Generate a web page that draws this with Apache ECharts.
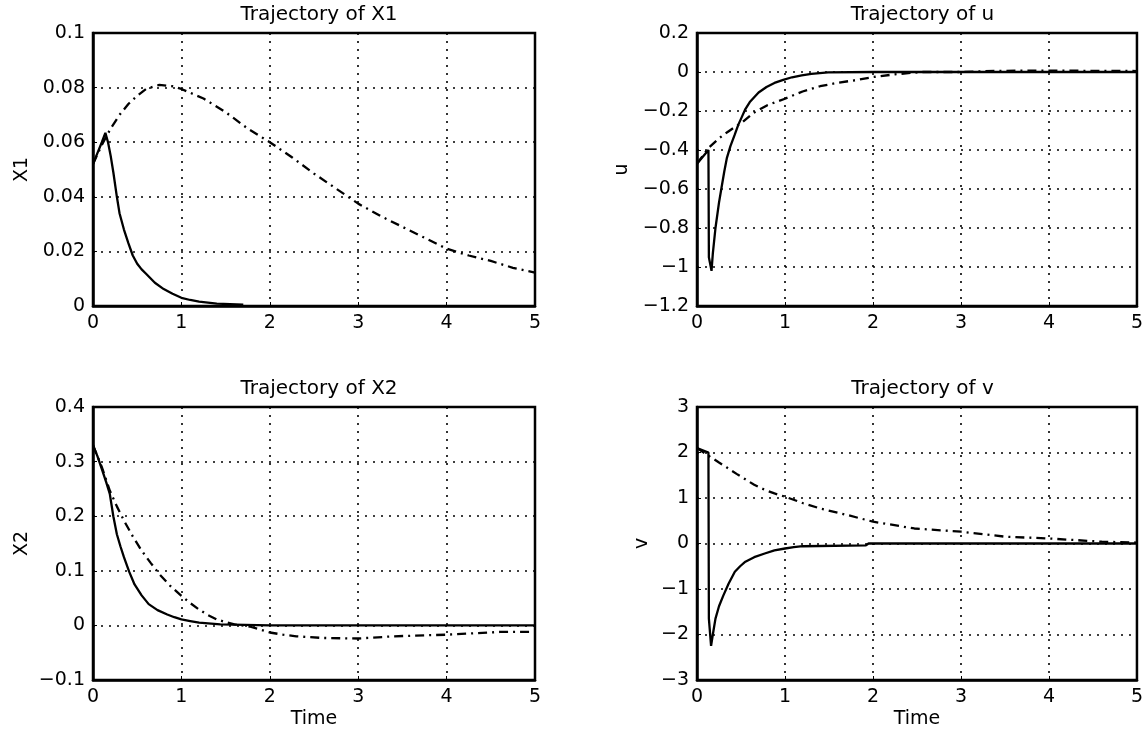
<!DOCTYPE html>
<html>
<head>
<meta charset="utf-8">
<script src="https://cdn.jsdelivr.net/npm/echarts@6/dist/echarts.min.js"></script>
<style>
  html, body { margin: 0; padding: 0; background: #fff; }
  #chart { width: 1146px; height: 732px; }
</style>
</head>
<body>
<div id="chart"></div>
<script>
// x tick labels (time)
const timeTicks = [0, 1, 2, 3, 4, 5]

// Trajectory of X1
const x1SolidT = [0, 0.05, 0.1, 0.14, 0.17, 0.2, 0.23, 0.27, 0.3, 0.35, 0.4, 0.45, 0.5, 0.55, 0.6, 0.7, 0.8, 0.9, 1.0, 1.1, 1.2, 1.4, 1.7]
const x1SolidV = [0.052, 0.056, 0.06, 0.0634, 0.06, 0.055, 0.049, 0.04, 0.034, 0.028, 0.023, 0.0185, 0.0155, 0.0134, 0.0118, 0.0085, 0.0062, 0.0045, 0.003, 0.0022, 0.0016, 0.0009, 0.0005]
const x1DashT = [0, 0.1, 0.2, 0.3, 0.4, 0.5, 0.6, 0.75, 0.9, 1.0, 1.25, 1.5, 1.75, 2.0, 2.25, 2.5, 2.75, 3.0, 3.25, 3.5, 3.75, 4.0, 4.25, 4.5, 4.75, 5.0]
const x1DashV = [0.052, 0.059, 0.065, 0.07, 0.074, 0.077, 0.0795, 0.081, 0.0805, 0.0795, 0.076, 0.071, 0.065, 0.06, 0.0545, 0.0485, 0.043, 0.0375, 0.033, 0.029, 0.025, 0.021, 0.0185, 0.0165, 0.014, 0.0122]

// Trajectory of u
const uSolidT = [0, 0.13, 0.135, 0.155, 0.165, 0.18, 0.21, 0.25, 0.28, 0.31, 0.34, 0.38, 0.43, 0.47, 0.51, 0.55, 0.6, 0.7, 0.79, 0.88, 0.98, 1.08, 1.19, 1.3, 1.49, 2.0, 3.0, 4.0, 5.0]
const uSolidV = [-0.47, -0.40, -0.95, -0.95, -1.02, -0.93, -0.8, -0.67, -0.59, -0.51, -0.44, -0.38, -0.32, -0.27, -0.23, -0.19, -0.154, -0.105, -0.077, -0.056, -0.04, -0.027, -0.017, -0.01, -0.002, 0, 0, 0, 0]
const uDashT = [0, 0.13, 0.25, 0.34, 0.42, 0.51, 0.64, 0.8, 1.0, 1.2, 1.4, 1.6, 1.83, 2.0, 2.25, 2.55, 3.0, 3.4, 4.0, 4.5, 5.0]
const uDashV = [-0.47, -0.39, -0.34, -0.31, -0.285, -0.26, -0.21, -0.17, -0.137, -0.1, -0.073, -0.055, -0.04, -0.026, -0.012, 0, 0, 0.006, 0.007, 0.006, 0.005]

// Trajectory of X2
const x2SolidT = [0, 0.05, 0.105, 0.15, 0.19, 0.23, 0.27, 0.31, 0.35, 0.41, 0.47, 0.55, 0.63, 0.73, 0.84, 0.92, 1.0, 1.1, 1.2, 1.44, 2.0, 3.0, 4.0, 5.0]
const x2SolidV = [0.33, 0.31, 0.284, 0.262, 0.241, 0.2, 0.167, 0.145, 0.125, 0.098, 0.075, 0.055, 0.039, 0.028, 0.02, 0.015, 0.011, 0.008, 0.005, 0.002, 0, 0, 0, 0]
const x2DashT = [0, 0.1, 0.19, 0.27, 0.35, 0.45, 0.55, 0.65, 0.75, 0.87, 1.0, 1.1, 1.2, 1.3, 1.4, 1.5, 1.6, 1.77, 1.9, 2.0, 2.15, 2.3, 2.6, 3.0, 3.4, 4.0, 4.6, 5.0]
const x2DashV = [0.33, 0.29, 0.247, 0.218, 0.192, 0.163, 0.137, 0.115, 0.094, 0.073, 0.054, 0.041, 0.029, 0.019, 0.011, 0.006, 0.002, -0.002, -0.008, -0.013, -0.017, -0.02, -0.023, -0.024, -0.02, -0.017, -0.012, -0.012]

// Trajectory of v
const vSolidT = [0, 0.13, 0.135, 0.15, 0.16, 0.18, 0.21, 0.25, 0.3, 0.36, 0.43, 0.49, 0.55, 0.65, 0.77, 0.88, 1.0, 1.1, 1.2, 1.92, 1.95, 3.0, 4.0, 5.0]
const vSolidV = [2.1, 2.0, -1.65, -1.65, -2.25, -2.0, -1.65, -1.38, -1.14, -0.88, -0.62, -0.5, -0.4, -0.3, -0.22, -0.15, -0.11, -0.08, -0.06, -0.04, 0, 0, 0, 0]
const vDashT = [0, 0.13, 0.25, 0.34, 0.45, 0.55, 0.65, 0.77, 0.88, 1.0, 1.2, 1.4, 1.7, 2.0, 2.47, 3.0, 3.5, 4.0, 4.6, 5.0]
const vDashV = [2.1, 1.93, 1.78, 1.67, 1.53, 1.41, 1.29, 1.18, 1.1, 1.03, 0.89, 0.77, 0.63, 0.48, 0.33, 0.26, 0.15, 0.11, 0.04, 0.02]

const titles = ['Trajectory of X1', 'Trajectory of u', 'Trajectory of X2', 'Trajectory of v']
const yNames = ['X1', 'u', 'X2', 'v']
const yRanges = [[0, 0.1, 0.02], [-1.2, 0.2, 0.2], [-0.1, 0.4, 0.1], [-3, 3, 1]]
const yNameGaps = [61, 65, 61, 45]

const FONT = 'DejaVu Sans, Arial, sans-serif'
const boxes = [
  { left: 93, top: 33, width: 442, height: 273 },
  { left: 697, top: 33, width: 441, height: 273 },
  { left: 93, top: 407, width: 442, height: 273 },
  { left: 697, top: 407, width: 441, height: 273 },
]

const pairs = (t, v) => t.map((x, i) => [x, v[i]])
const fmt = (v) => String(Number(v.toFixed(3))).replace('-', '\u2212')

const gridLine = { show: true, lineStyle: { color: '#000', width: 1.6, type: [2, 6] } }

function line(idx, t, v, dashed) {
  return {
    type: 'line',
    xAxisIndex: idx,
    yAxisIndex: idx,
    data: pairs(t, v),
    showSymbol: false,
    silent: true,
    animation: false,
    lineStyle: { color: '#000', width: 2.3, type: dashed ? [9, 5, 2, 5] : 'solid' },
  }
}

const option = {
  backgroundColor: '#fff',
  animation: false,
  title: titles.map((text, i) => ({
    text,
    left: boxes[i].left + boxes[i].width / 2,
    top: boxes[i].top - 33,
    textAlign: 'center',
    textStyle: { fontFamily: FONT, fontSize: 20, fontWeight: 'normal', color: '#000' },
  })),
  grid: boxes.map((b) => ({
    ...b,
    show: true,
    borderColor: '#000',
    borderWidth: 2.5,
    backgroundColor: '#fff',
  })),
  xAxis: boxes.map((b, i) => ({
    type: 'value',
    gridIndex: i,
    min: timeTicks[0],
    max: timeTicks[timeTicks.length - 1],
    interval: 1,
    name: i >= 2 ? 'Time' : '',
    nameLocation: 'middle',
    nameGap: 30,
    nameMoveOverlap: false,
    nameTextStyle: { fontFamily: FONT, fontSize: 19, color: '#000' },
    axisLine: { show: true, onZero: false, lineStyle: { color: '#000', width: 2.5 } },
    axisTick: { show: true, inside: true, length: 4, lineStyle: { color: '#000' } },
    axisLabel: { fontFamily: FONT, fontSize: 19, color: '#000', margin: 8, formatter: fmt },
    splitLine: gridLine,
  })),
  yAxis: boxes.map((b, i) => ({
    type: 'value',
    gridIndex: i,
    min: yRanges[i][0],
    max: yRanges[i][1],
    interval: yRanges[i][2],
    name: yNames[i],
    nameLocation: 'middle',
    nameGap: yNameGaps[i],
    nameMoveOverlap: false,
    nameTextStyle: { fontFamily: FONT, fontSize: 19, color: '#000' },
    axisLine: { show: true, onZero: false, lineStyle: { color: '#000', width: 2.5 } },
    axisTick: { show: true, inside: true, length: 4, lineStyle: { color: '#000' } },
    axisLabel: { fontFamily: FONT, fontSize: 19, color: '#000', margin: 8, formatter: fmt },
    splitLine: gridLine,
  })),
  series: [
    line(0, x1DashT, x1DashV, true),
    line(0, x1SolidT, x1SolidV, false),
    line(1, uDashT, uDashV, true),
    line(1, uSolidT, uSolidV, false),
    line(2, x2DashT, x2DashV, true),
    line(2, x2SolidT, x2SolidV, false),
    line(3, vDashT, vDashV, true),
    line(3, vSolidT, vSolidV, false),
  ],
}

const chart = echarts.init(document.getElementById('chart'))
chart.setOption(option)
</script>
</body>
</html>
